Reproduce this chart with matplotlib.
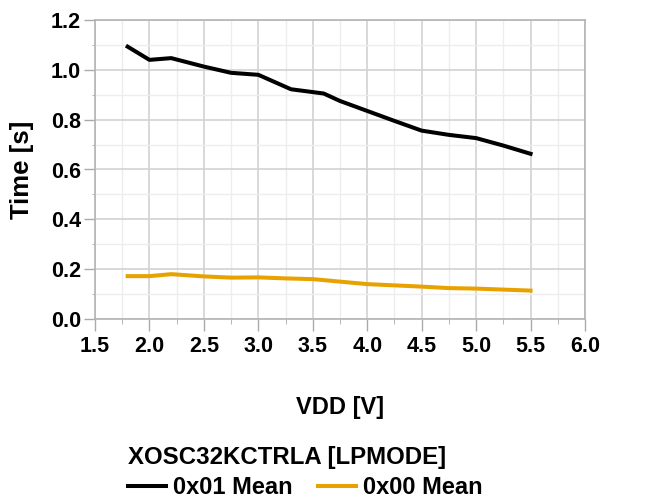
import matplotlib
matplotlib.use("Agg")
import matplotlib.pyplot as plt
from matplotlib.ticker import MultipleLocator

plt.rcParams['font.family'] = ['Liberation Sans', 'DejaVu Sans']
plt.rcParams['font.weight'] = 'bold'

# data
vdd_01 = [1.8, 2.0, 2.2, 2.5, 2.75, 3.0, 3.3, 3.6, 3.75, 4.0, 4.25, 4.5, 4.75, 5.0, 5.25, 5.5]
mean_01 = [1.093, 1.040, 1.047, 1.013, 0.988, 0.980, 0.922, 0.905, 0.875, 0.835, 0.795, 0.756, 0.739, 0.726, 0.696, 0.663]
vdd_00 = [1.8, 2.0, 2.2, 2.5, 2.75, 3.0, 3.25, 3.5, 3.75, 4.0, 4.25, 4.5, 4.75, 5.0, 5.25, 5.5]
mean_00 = [0.172, 0.172, 0.180, 0.171, 0.166, 0.167, 0.163, 0.160, 0.150, 0.140, 0.135, 0.130, 0.124, 0.122, 0.118, 0.114]

fig = plt.figure(figsize=(6.6, 4.98), dpi=100)
ax = fig.add_axes([95 / 660, 1 - 319 / 498, 490 / 660, 299 / 498])

l1, = ax.plot(vdd_01, mean_01, color='black', lw=2.9, label='0x01 Mean', zorder=3)
l2, = ax.plot(vdd_00, mean_00, color='#e8a200', lw=2.9, label='0x00 Mean', zorder=3)

ax.set_xlim(1.5, 6.0)
ax.set_ylim(0.0, 1.2)
ax.xaxis.set_major_locator(MultipleLocator(0.5))
ax.xaxis.set_minor_locator(MultipleLocator(0.25))
ax.yaxis.set_major_locator(MultipleLocator(0.2))
ax.yaxis.set_minor_locator(MultipleLocator(0.1))
ax.xaxis.set_major_formatter(lambda v, p: f"{v:.1f}")
ax.yaxis.set_major_formatter(lambda v, p: f"{v:.1f}")

ax.grid(which='major', color='#d2d2d2', lw=1.2)
ax.grid(which='minor', color='#ededed', lw=1.0)
ax.set_axisbelow(True)
for s in ax.spines.values():
    s.set_color('#b4b4b4')
    s.set_linewidth(1.2)

ax.tick_params(which='major', color='#aaaaaa', width=1, labelsize=15.5)
ax.tick_params(axis='y', which='major', length=8, pad=2)
ax.tick_params(axis='y', which='minor', length=2.5, color='#aaaaaa')
ax.tick_params(axis='x', which='major', length=8.5, pad=4)
ax.tick_params(axis='x', which='minor', length=3.5, color='#aaaaaa')
for lab in ax.get_xticklabels() + ax.get_yticklabels():
    lab.set_fontweight('bold')

ax.set_xlabel('VDD [V]', fontsize=17, fontweight='bold')
ax.xaxis.set_label_coords(0.5, -(407 - 319) / 299, transform=ax.transAxes)
ax.xaxis.label.set_va('center')
ax.set_ylabel('Time [s]', fontsize=18.5, fontweight='bold')
ax.yaxis.set_label_coords(-(95 - 22) / 490, 0.5, transform=ax.transAxes)
ax.yaxis.label.set_va('center')

leg = fig.legend(handles=[l1, l2], loc='upper left', bbox_to_anchor=(128 / 660, 1 - 446 / 498),
                 ncol=2, frameon=False, title='XOSC32KCTRLA [LPMODE]',
                 prop={'size': 17, 'weight': 'bold'}, handlelength=1.6,
                 columnspacing=1.1, handletextpad=0.3, borderpad=0, borderaxespad=0)
leg.get_title().set_fontsize(17.3)
leg.get_title().set_fontweight('bold')
leg._legend_box.sep = 5
leg._legend_box.align = 'left'

fig.savefig('out.png', dpi=100)
